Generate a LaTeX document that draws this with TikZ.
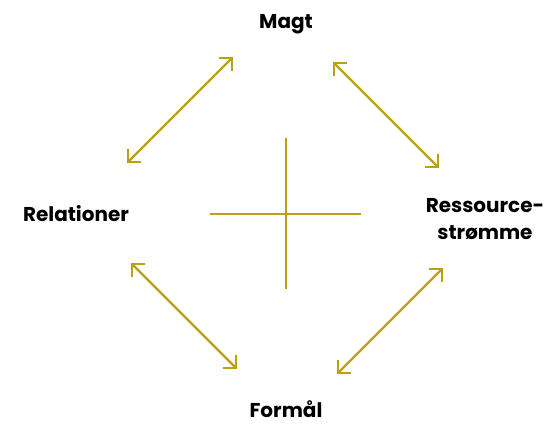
\documentclass[tikz,border=0pt]{standalone}
\usepackage{fontspec}
\setmainfont{Poppins}
\usetikzlibrary{arrows.meta}
\definecolor{gold}{RGB}{188,160,20}
\tikzset{
  lbl/.style={font=\fontsize{15}{20}\selectfont\bfseries, text=black, align=center, inner sep=0pt},
  dbl/.style={draw=gold, line width=1.6pt, {Straight Barb[length=7pt,width=14pt]}-{Straight Barb[length=7pt,width=14pt]}},
  crossline/.style={draw=gold, line width=1.6pt}
}
\begin{document}
\begin{tikzpicture}[x=0.75pt,y=-0.75pt]
\useasboundingbox (0,0) rectangle (551,424);
\node[lbl, anchor=base] (magt) at (286,29) {Magt};
\node[lbl, anchor=base] (rel) at (76,222) {Relationer};
\node[lbl] (res) at (485,219) {Ressource-\\strømme};
\node[lbl, anchor=base, text depth=0pt] (form) at (286,418) {Formål};
% arrow end points
\coordinate (a1) at (233,57);  \coordinate (a2) at (127,163);
\coordinate (b1) at (333,62);  \coordinate (b2) at (439,168);
\coordinate (c1) at (131,263); \coordinate (c2) at (237,369);
\coordinate (d1) at (443,268); \coordinate (d2) at (337,374);
\draw[dbl] (a1) -- (a2);
\draw[dbl] (b1) -- (b2);
\draw[dbl] (c1) -- (c2);
\draw[dbl] (d1) -- (d2);
% cross
\coordinate (hl) at (210,214); \coordinate (hr) at (361,214);
\coordinate (vt) at (286,138); \coordinate (vb) at (286,289);
\draw[crossline] (hl) -- (hr);
\draw[crossline] (vt) -- (vb);
\end{tikzpicture}
\end{document}
